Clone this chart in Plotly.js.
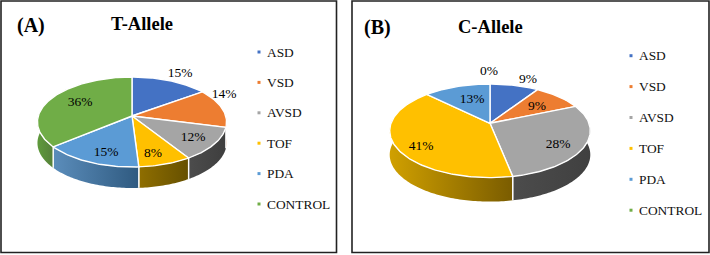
<!DOCTYPE html>
<html><head><meta charset="utf-8">
<script src="https://cdn.plot.ly/plotly-3.0.1.min.js"></script>
<style>html,body{margin:0;padding:0;background:#fff}#c{width:710px;height:255px}</style>
</head><body><div id="c"></div>
<script>
const categories = ['ASD','VSD','AVSD','TOF','PDA','CONTROL'];
const tAllele = [15, 14, 12, 8, 15, 36];
const cAllele = [9.2, 9.4, 28.4, 40.6, 12.6, 0];

const topColors = ['#4472C4','#ED7D31','#A5A5A5','#FFC000','#5B9BD5','#70AD47'];
const sideStopsA = [
  ['#2F5597','#2F5597'],['#C5651F','#C5651F'],['#4C4C4C','#3E3E3E'],
  ['#8F6E00','#665000'],['#5B8DBB','#2F5A80'],['#5F9A3C','#55803A']
];
const sideStopsB = [
  ['#2F5597','#2F5597'],['#C5651F','#C5651F'],['#4C4C4C','#404040'],
  ['#D0A000','#7A5C00'],['#5B8DBB','#2F5A80'],['#5F9A3C','#55803A']
];
const F = 'Liberation Serif, Times New Roman, serif';

const panels = [
 {values:tAllele, stops:sideStopsA, cx:132, cy:116, rx:93.7, a:44.2, k:0.133, depth:21,
  frame:[1,1,336.5,252.5], tag:'(A)', tagPos:[31,25], title:'T-Allele', titlePos:[142,24],
  legX:259, legY:52, legStep:30.4,
  labelPos:[[180,74],[224,95],[193,138],[153,154],[106,153],[80,103]]},
 {values:cAllele, stops:sideStopsB, cx:490, cy:123.3, rx:99, a:45.6, k:0.16, depth:24,
  frame:[352,1,709,252.5], tag:'(B)', tagPos:[377,27], title:'C-Allele', titlePos:[490,27],
  legX:631, legY:55.7, legStep:30.9,
  labelPos:[[528,80],[537,107],[558,145],[421,147],[472,100],[489,72]]}
];

const traces = [], shapes = [], annotations = [];

function proj(p, t){
  const s = Math.sin(t), c = Math.cos(t), d = 1 + p.k*c;
  return [p.cx + p.rx*s/d, p.cy - p.a*c/d];
}
function arc(p, t0, t1){
  const n = Math.max(2, Math.ceil(Math.abs(t1-t0)/0.02)), out = [];
  for(let i=0;i<=n;i++) out.push(proj(p, t0+(t1-t0)*i/n));
  return out;
}

panels.forEach((p, pi)=>{
  const total = p.values.reduce((a,b)=>a+b,0);
  shapes.push({type:'rect',xref:'x',yref:'y',x0:p.frame[0],y0:p.frame[1],x1:p.frame[2],y1:p.frame[3],
    line:{color:'#222',width:1.6},fillcolor:'rgba(0,0,0,0)'});

  let acc = 0;
  const sl = p.values.map(v=>{const a0=acc/total*2*Math.PI; acc+=v; return [a0, acc/total*2*Math.PI];});

  const wallA = 1.45, wallB = 2*Math.PI-1.45;
  sl.forEach((r,i)=>{
    const t0 = Math.max(r[0],wallA), t1 = Math.min(r[1],wallB);
    if(t1<=t0) return;
    const a = arc(p,t0,t1);
    const xs = a.map(q=>q[0]).concat(a.slice().reverse().map(q=>q[0]));
    const ys = a.map(q=>q[1]).concat(a.slice().reverse().map(q=>q[1]+p.depth));
    xs.push(xs[0]); ys.push(ys[0]);
    traces.push({type:'scatter',mode:'none',x:xs,y:ys,fill:'toself',showlegend:false,hoverinfo:'skip',
      fillcolor:p.stops[i][1],
      fillgradient:{type:'horizontal',colorscale:[[0,p.stops[i][0]],[1,p.stops[i][1]]]}});
    [t0,t1].forEach((t,j)=>{
      if((j===0&&t0===wallA)||(j===1&&t1===wallB)) return;
      const q = proj(p,t);
      traces.push({type:'scatter',mode:'lines',x:[q[0],q[0]],y:[q[1],q[1]+p.depth],
        line:{color:'#fff',width:1.3},showlegend:false,hoverinfo:'skip'});
    });
  });

  sl.forEach((r,i)=>{
    if(r[1]-r[0]<=0) return;
    const a = arc(p,r[0],r[1]);
    const xs = [p.cx].concat(a.map(q=>q[0]),[p.cx]);
    const ys = [p.cy].concat(a.map(q=>q[1]),[p.cy]);
    traces.push({type:'scatter',mode:'lines',x:xs,y:ys,fill:'toself',fillcolor:topColors[i],
      line:{color:'#fff',width:1.4},name:categories[i],showlegend:false,hoverinfo:'name'});
  });

  traces.push({type:'scatter',mode:'text',x:p.labelPos.map(q=>q[0]),y:p.labelPos.map(q=>q[1]),
    text:p.values.map(v=>Math.round(v/total*100)+'%'),
    textposition:'middle center',textfont:{family:F,size:13.5,color:'#000'},showlegend:false,hoverinfo:'skip'});

  categories.forEach((c,i)=>{
    const y = p.legY + i*p.legStep;
    traces.push({type:'scatter',mode:'markers',x:[p.legX],y:[y],
      marker:{symbol:'square',size:3,color:topColors[i]},showlegend:false,hoverinfo:'skip'});
    annotations.push({xref:'x',yref:'y',x:p.legX+7,y:y,text:c,showarrow:false,xanchor:'left',yanchor:'middle',
      xshift:-1,font:{family:F,size:13.4,color:'#111'}});
  });

  annotations.push({xref:'x',yref:'y',x:p.tagPos[0],y:p.tagPos[1],text:'<b>'+p.tag+'</b>',showarrow:false,
    xanchor:'center',yanchor:'middle',font:{family:F,size:20,color:'#000'}});
  annotations.push({xref:'x',yref:'y',x:p.titlePos[0],y:p.titlePos[1],text:'<b>'+p.title+'</b>',showarrow:false,
    xanchor:'center',yanchor:'middle',font:{family:F,size:18.5,color:'#000'}});
});

Plotly.newPlot('c',traces,{
  width:710,height:255,margin:{l:0,r:0,t:0,b:0},paper_bgcolor:'#fff',plot_bgcolor:'#fff',showlegend:false,
  xaxis:{range:[0,710],visible:false,fixedrange:true},
  yaxis:{range:[255,0],visible:false,fixedrange:true},
  shapes,annotations
},{staticPlot:true,displayModeBar:false});
</script></body></html>
